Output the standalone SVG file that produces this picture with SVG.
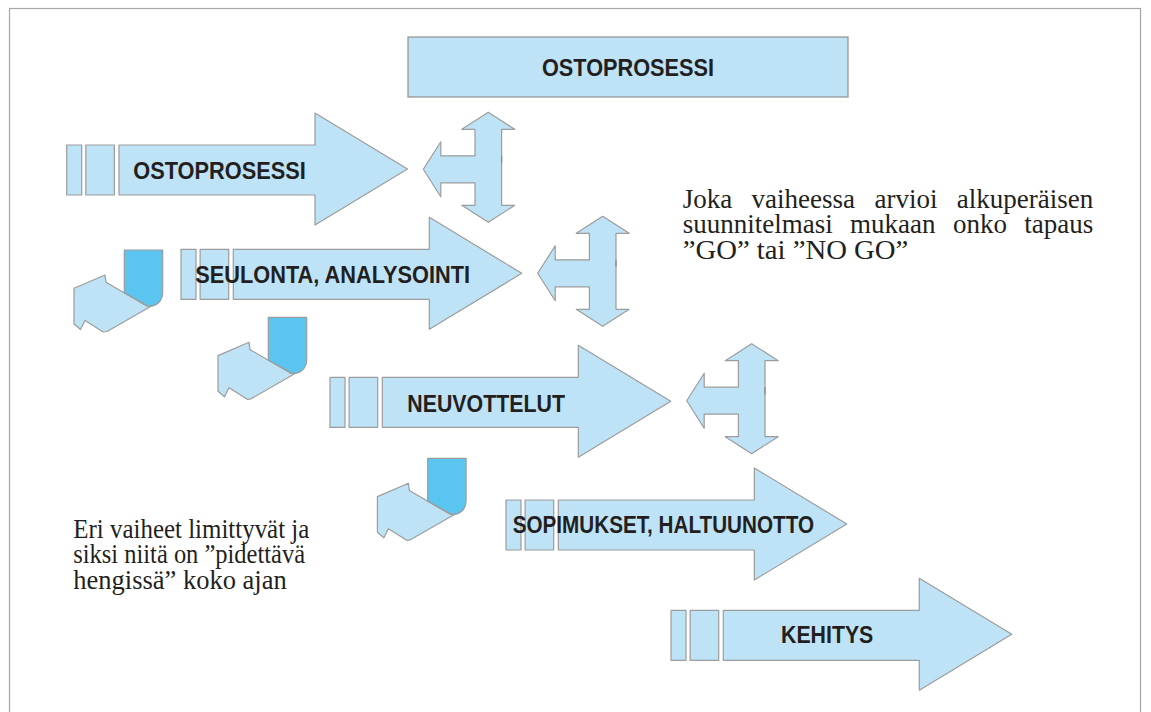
<svg xmlns="http://www.w3.org/2000/svg" xmlns:xlink="http://www.w3.org/1999/xlink" width="1151" height="712" viewBox="0 0 1151 712">
<style>
.lt{fill:#bee3f6;stroke:#9c9c9c;stroke-width:1.2;stroke-linejoin:round}
.dk{fill:#5bc5f2;stroke:#9c9c9c;stroke-width:1.2;stroke-linejoin:round}
.mark{stroke:#8c8c8c;stroke-width:1.3}
.lbl{font-family:"Liberation Sans",Arial,Helvetica,sans-serif;font-weight:bold;font-size:23px;fill:#231f20}
.body{font-family:"Liberation Serif","Times New Roman",serif;font-size:27px;fill:#231f20}
</style>
<defs>
  <g id="stageArrow">
    <rect class="lt" x="-52.3" y="-25" width="15" height="50"/>
    <rect class="lt" x="-33.2" y="-25" width="28.6" height="50"/>
    <path class="lt" d="M0,-25 H196 V-57 L288.5,-1 L196,55 V25 H0 Z"/>
  </g>
  <g id="checkArrow">
    <path class="lt" d="M0,0 L17.5,-27.5 V-13.5 H51.7 V-40 H38.5 L65,-57 L91.5,-40 H78.3 V36 H91.5 L65,53 L38.5,36 H51.7 V13.5 H17.5 V27.5 Z"/>
    <line class="mark" x1="78.3" y1="-13.5" x2="78.3" y2="-6.5"/>
  </g>
  <g id="uturn">
    <path class="lt" d="M74,288.3 L105,275 L106,282.3 L146.7,306 L153.3,305 L107,331.5 L103.3,332 L85,320.5 L80.5,329.5 L74,324 Z"/>
    <path class="dk" d="M124.3,250 H162.7 V292 C162.7,301 157,306.2 148.5,306.2 L124.3,292.7 Z"/>
  </g>
</defs>

<rect x="9.5" y="8.5" width="1131" height="720" fill="none" stroke="#a6a6a6" stroke-width="1.2"/>

<g id="title">
  <rect x="408" y="37" width="440" height="60" fill="#bee3f6" stroke="#909090" stroke-width="1.2"/>
  <text class="lbl" x="628" y="75.5" text-anchor="middle" textLength="172" lengthAdjust="spacingAndGlyphs">OSTOPROSESSI</text>
</g>

<g id="stage1">
  <use xlink:href="#stageArrow" href="#stageArrow" transform="translate(119,170)"/>
  <text class="lbl" x="133.3" y="179" textLength="172.4" lengthAdjust="spacingAndGlyphs">OSTOPROSESSI</text>
</g>
<g id="stage2">
  <use xlink:href="#stageArrow" href="#stageArrow" transform="translate(233.3,274.3)"/>
  <text class="lbl" x="195.3" y="282.7" textLength="274.7" lengthAdjust="spacingAndGlyphs">SEULONTA, ANALYSOINTI</text>
</g>
<g id="stage3">
  <use xlink:href="#stageArrow" href="#stageArrow" transform="translate(382.3,402.3)"/>
  <text class="lbl" x="407.3" y="411.7" textLength="157.7" lengthAdjust="spacingAndGlyphs">NEUVOTTELUT</text>
</g>
<g id="stage4">
  <use xlink:href="#stageArrow" href="#stageArrow" transform="translate(558.3,525)"/>
  <text class="lbl" x="512.7" y="532.7" textLength="301.3" lengthAdjust="spacingAndGlyphs">SOPIMUKSET, HALTUUNOTTO</text>
</g>
<g id="stage5">
  <use xlink:href="#stageArrow" href="#stageArrow" transform="translate(723.3,635.3)"/>
  <text class="lbl" x="781" y="643.3" textLength="92.3" lengthAdjust="spacingAndGlyphs">KEHITYS</text>
</g>

<g id="connectors">
  <use id="check1" xlink:href="#checkArrow" href="#checkArrow" transform="translate(423.3,169.3)"/>
  <use id="check2" xlink:href="#checkArrow" href="#checkArrow" transform="translate(537.7,273.3)"/>
  <use id="check3" xlink:href="#checkArrow" href="#checkArrow" transform="translate(686.7,400.7)"/>
  <use id="loop1" xlink:href="#uturn" href="#uturn"/>
  <use id="loop2" xlink:href="#uturn" href="#uturn" transform="translate(144,67.3)"/>
  <use id="loop3" xlink:href="#uturn" href="#uturn" transform="translate(303.4,208.3)"/>
</g>

<g id="note-right">
  <text class="body" y="207.5"><tspan x="682.7">Joka</tspan><tspan x="751.6">vaiheessa</tspan><tspan x="874.5">arvioi</tspan></text>
  <text class="body" x="1093.3" y="207.5" text-anchor="end">alkuperäisen</text>
  <text class="body" y="233"><tspan x="682.7">suunnitelmasi</tspan><tspan x="850.1">mukaan</tspan><tspan x="953">onko</tspan></text>
  <text class="body" x="1093.3" y="233" text-anchor="end">tapaus</text>
  <text class="body" x="682.7" y="258.5" textLength="225.6" lengthAdjust="spacingAndGlyphs">”GO” tai ”NO GO”</text>
</g>

<g id="note-left">
  <text class="body" x="73.3" y="537.5" textLength="236" lengthAdjust="spacingAndGlyphs">Eri vaiheet limittyvät ja</text>
  <text class="body" x="73.3" y="563" textLength="231.7" lengthAdjust="spacingAndGlyphs">siksi niitä on ”pidettävä</text>
  <text class="body" x="73.3" y="588.5" textLength="213.4" lengthAdjust="spacingAndGlyphs">hengissä” koko ajan</text>
</g>
</svg>
